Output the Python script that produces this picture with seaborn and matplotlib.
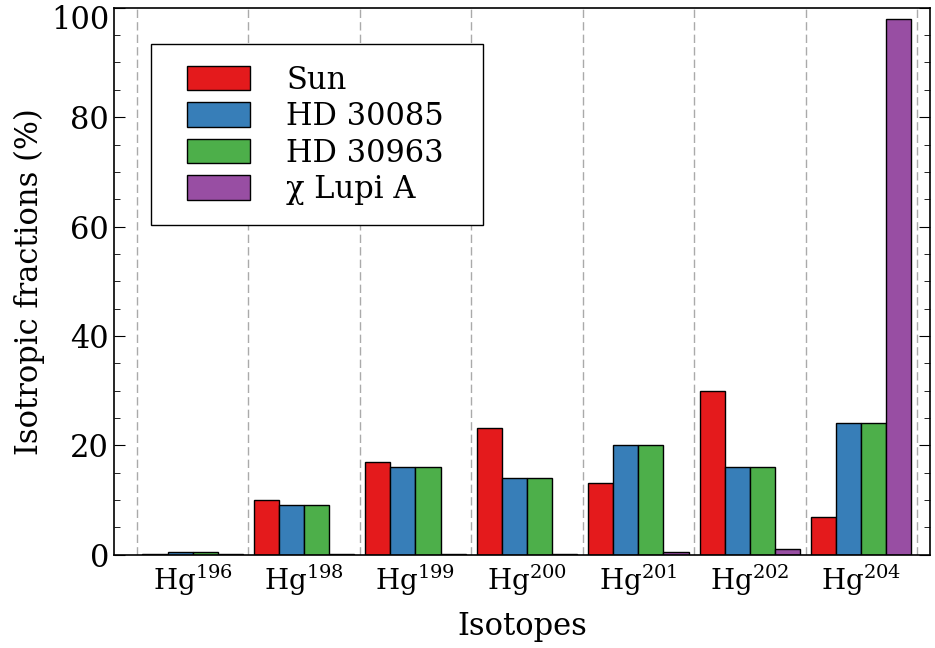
import pandas as pd
import seaborn as sns
import matplotlib.pyplot as plt
import matplotlib.ticker as ticker
from matplotlib.patches import Rectangle
from matplotlib.transforms import ScaledTranslation

# Isotope fractions (%) per star
isotopes = ["196", "198", "199", "200", "201", "202", "204"]
stars = ["Sun", "HD 30085", "HD 30963", "χ Lupi A"]
sun = [0.15, 9.97, 16.87, 23.10, 13.18, 29.86, 6.87]
hd30085 = [0.5, 9.0, 16.0, 14.0, 20.0, 16.0, 24.0]
hd30963 = [0.5, 9.0, 16.0, 14.0, 20.0, 16.0, 24.0]
chi_lupi = [0.1, 0.1, 0.2, 0.1, 0.5, 1.1, 98.0]
colors = ["#e41a1c", "#377eb8", "#4daf4a", "#984ea3"]

labels = [f"Hg$^{{{i}}}$" for i in isotopes]
rows = []
for star, vals in zip(stars, [sun, hd30085, hd30963, chi_lupi]):
    for lab, v in zip(labels, vals):
        rows.append({"Isotope": lab, "Star": star, "Fraction": v})
df = pd.DataFrame(rows)

sns.set_style("ticks")
plt.rcParams["font.family"] = ["DejaVu Serif"]
plt.rcParams["mathtext.fontset"] = "dejavuserif"
plt.rcParams["text.color"] = "black"
plt.rcParams["axes.labelcolor"] = "black"
plt.rcParams["xtick.color"] = "black"
plt.rcParams["ytick.color"] = "black"
plt.rcParams["axes.edgecolor"] = "black"

fig = plt.figure(figsize=(9.35, 6.48), dpi=100)
ax = fig.add_axes([0.122, 0.144, 0.873, 0.844])

sns.barplot(data=df, x="Isotope", y="Fraction", hue="Star", palette=colors,
            width=0.9, edgecolor="black", linewidth=1, saturation=1, ax=ax)

# dashed separators between isotope groups
for xv in range(len(isotopes) + 1):
    ax.axvline(xv - 0.5, color="#aaaaaa", linestyle=(0, (6, 3)), linewidth=1, zorder=0)

ax.set_xlim(-0.705, 6.62)
ax.set_ylim(0, 100)
ax.yaxis.set_major_locator(ticker.MultipleLocator(20))
ax.yaxis.set_minor_locator(ticker.MultipleLocator(5))
ax.tick_params(axis="y", which="both", direction="in", right=True, labelsize=22)
ax.tick_params(axis="y", which="major", length=8)
ax.tick_params(axis="y", which="minor", length=4)
ax.tick_params(axis="x", length=0, labelsize=20, pad=6)
ax.set_xlabel("Isotopes", fontsize=22, labelpad=9)
ax.set_ylabel("Isotropic fractions (%)", fontsize=22)
for s in ax.spines.values():
    s.set_linewidth(1.2)

# legend frame drawn separately so the padding can be wider than tall
ax.add_patch(Rectangle((0.0453, 0.603), 0.407, 0.331, transform=ax.transAxes,
                       facecolor="white", edgecolor="black", linewidth=1, zorder=4))
leg = ax.legend(loc="upper left", bbox_to_anchor=(0.0895, 0.896), fontsize=22,
                frameon=False, handlelength=2.05, handleheight=0.85,
                handletextpad=1.2, borderpad=0, labelspacing=0.18, borderaxespad=0)
leg.set_zorder(5)

# top tick label sits a little below its tick, keeping it inside the figure
fig.canvas.draw()
for lab in ax.get_yticklabels():
    if lab.get_text() == "100":
        lab.set_transform(lab.get_transform() + ScaledTranslation(0, -7 / 72, fig.dpi_scale_trans))

fig.savefig("out.png", dpi=100)
